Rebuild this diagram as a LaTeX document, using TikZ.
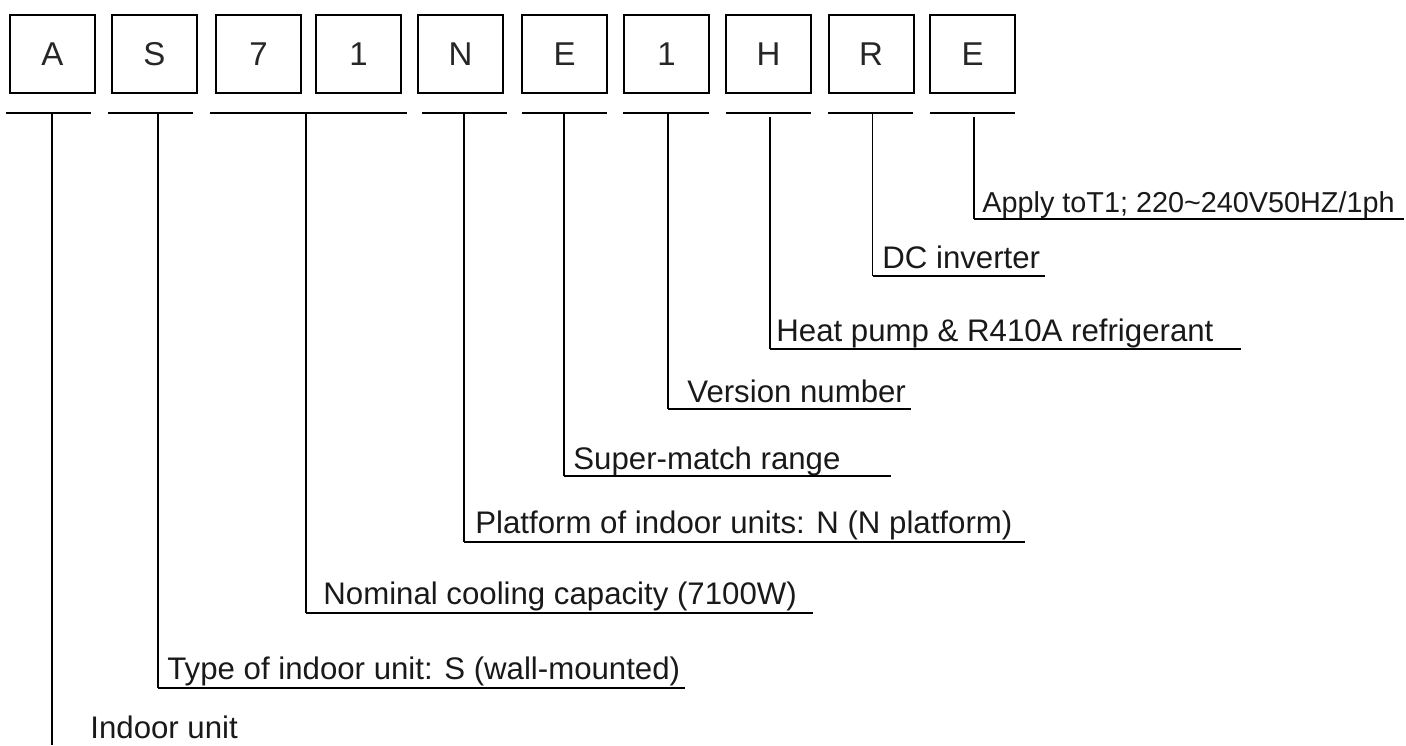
\documentclass[tikz,border=0pt]{standalone}
\usepackage{fontspec}
\setmainfont{Liberation Sans}
\begin{document}
\begin{tikzpicture}[x=0.5pt,y=-0.5pt,
  letterbox/.style={draw=black,line width=1pt,minimum width=42.5pt,minimum height=39pt,inner sep=0pt,font=\fontsize{16.5}{18}\selectfont,text=black!85},
  lbl/.style={anchor=base west,inner sep=0pt,font=\fontsize{15.6}{18}\selectfont,text=black!90},
  under/.style={line width=1pt},
  stem/.style={line width=0.7pt},
  rule/.style={line width=0.9pt}]
\useasboundingbox (0,0) rectangle (1406,745);
% letter boxes
\node[letterbox] (bA) at (52.5,54) {A};
\node[letterbox] (bS) at (154.5,54) {S};
\node[letterbox] (b7) at (258.5,54) {7};
\node[letterbox] (b1) at (358.5,54) {1};
\node[letterbox] (bN) at (460.5,54) {N};
\node[letterbox] (bE) at (564.5,54) {E};
\node[letterbox] (bV) at (666.5,54) {1};
\node[letterbox] (bH) at (768.5,54) {H};
\node[letterbox] (bR) at (871,54) {R};
\node[letterbox] (bT) at (972.5,54) {E};
% underlines
\coordinate (uA1) at (6,113);   \coordinate (uA2) at (91,113);
\coordinate (uS1) at (108,113); \coordinate (uS2) at (193,113);
\coordinate (u71) at (210,113); \coordinate (u72) at (407,113);
\coordinate (uN1) at (422,113); \coordinate (uN2) at (507,113);
\coordinate (uE1) at (522,113); \coordinate (uE2) at (607,113);
\coordinate (uV1) at (623,113); \coordinate (uV2) at (709,113);
\coordinate (uH1) at (726,113); \coordinate (uH2) at (811,113);
\coordinate (uR1) at (828,113); \coordinate (uR2) at (913,113);
\coordinate (uT1) at (930,113); \coordinate (uT2) at (1015,113);
\foreach \u in {A,S,7,N,E,V,H,R,T}{\draw[under] (u\u1) -- (u\u2);}
% labels
\node[lbl,font=\fontsize{14.4}{17}\selectfont] (tT) at (982,212) {Apply toT1; 220\textasciitilde240V50HZ/1ph};
\node[lbl] (tR) at (882,268) {DC inverter};
\node[lbl] (tH) at (776,341) {Heat pump \& R410A refrigerant};
\node[lbl] (tV) at (687,402) {Version number};
\node[lbl] (tE) at (573,469) {Super-match range};
\node[lbl] (tN) at (475,533) {Platform of indoor units: N (N platform)};
\node[lbl] (t7) at (323,604) {Nominal cooling capacity (7100W)};
\node[lbl] (tS) at (167,679) {Type of indoor unit: S (wall-mounted)};
\node[lbl] (tA) at (90,738) {Indoor unit};
% stems and rules
\coordinate (sT) at (974,117);  \coordinate (cT) at (974,219);  \coordinate (eT) at (1404,219);
\coordinate (sR) at (872.5,113);\coordinate (cR) at (872.5,276);\coordinate (eR) at (1045,276);
\coordinate (sH) at (770,117);  \coordinate (cH) at (770,349);  \coordinate (eH) at (1241,349);
\coordinate (sV) at (668,113);  \coordinate (cV) at (668,409);  \coordinate (eV) at (911,409);
\coordinate (sE) at (564,113);  \coordinate (cE) at (564,476);  \coordinate (eE) at (891,476);
\coordinate (sN) at (464,113);  \coordinate (cN) at (464,542);  \coordinate (eN) at (1025,542);
\coordinate (s7) at (306,113);  \coordinate (c7) at (306,613);  \coordinate (e7) at (813,613);
\coordinate (sS) at (158,113);  \coordinate (cS) at (158,688);  \coordinate (eS) at (685,688);
\coordinate (sA) at (52,113);   \coordinate (cA) at (52,745);
\foreach \k in {T,R,H,V,E,N,7,S}{
  \draw[stem] (s\k) -- (c\k);
  \draw[rule] (c\k) -- (e\k);
}
\draw[stem] (sA) -- (cA);
\end{tikzpicture}
\end{document}
